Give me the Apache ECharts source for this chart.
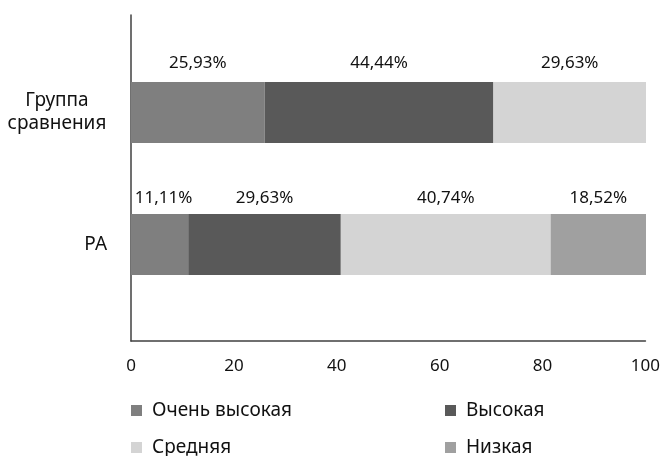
<!DOCTYPE html>
<html>
<head>
<meta charset="utf-8">
<script src="https://cdn.jsdelivr.net/npm/echarts@6/dist/echarts.min.js"></script>
<style>
  html, body { margin: 0; padding: 0; background: #fff; }
  #chart { width: 663px; height: 456px; }
</style>
</head>
<body>
<div id="chart"></div>
<script>
// Groups, bottom to top
const categories = ['РА', 'Группа сравнения'];
// Level names, in stacking order
const levels = ['Очень высокая', 'Высокая', 'Средняя', 'Низкая'];
// Percent share of each level per group (same order as categories)
const veryHigh = [11.11, 25.93];
const high     = [29.63, 44.44];
const medium   = [40.74, 29.63];
const low      = [18.52, 0];
// Value axis ticks
const xTicks = [0, 20, 40, 60, 80, 100];

const colors = ['#7f7f7f', '#595959', '#d4d4d4', '#a0a0a0'];
const FONT = 'Noto Sans';
const FS_NUM = 17;   // numbers
const FS_TXT = 19;   // words
const TXT = '#111111';

const seriesValues = [veryHigh, high, medium, low];

function fmt(v) {
  return v.toFixed(2).replace('.', ',') + '%';
}

const series = levels.map((name, si) => ({
  name,
  type: 'bar',
  stack: 'total',
  xAxisIndex: 0,
  yAxisIndex: 0,
  barWidth: 61,
  itemStyle: { color: colors[si] },
  data: seriesValues[si].map((v, ci) => {
    const label = {
      show: v > 0,
      position: 'top',
      distance: ci === 1 ? 10 : 7,
      formatter: p => fmt(p.value),
      color: TXT,
      fontFamily: FONT,
      fontSize: FS_NUM
    };
    // keep the narrow first segment's label clear of the axis line
    if (si === 0 && ci === 0) label.offset = [4, 0];
    return { value: v, label };
  })
}));

// legend laid out as two columns of two rows
const legendPos = [
  { left: 131, top: 401 },
  { left: 445, top: 401 },
  { left: 131, top: 438 },
  { left: 445, top: 438 }
];
const legends = levels.map((name, i) => ({
  data: [name],
  left: legendPos[i].left,
  top: legendPos[i].top,
  padding: 0,
  itemWidth: 11, itemHeight: 11, icon: 'rect',
  textStyle: { color: TXT, fontFamily: FONT, fontSize: FS_TXT, padding: [0, 0, 0, 5] }
}));

const option = {
  animation: false,
  backgroundColor: '#ffffff',
  textStyle: { fontFamily: FONT },
  grid: [
    // bars
    { left: 131, right: 17, top: 46.5, height: 264 },
    // axis frame
    { left: 131, right: 17, top: 15, height: 326 }
  ],
  xAxis: [
    {
      gridIndex: 0, type: 'value', min: 0, max: 100, interval: 20,
      show: false
    },
    {
      gridIndex: 1, type: 'value', min: xTicks[0], max: xTicks[xTicks.length - 1],
      interval: xTicks[1] - xTicks[0],
      axisLine: { show: true, lineStyle: { color: '#404040', width: 1.5 } },
      axisTick: { show: false },
      splitLine: { show: false },
      axisLabel: { color: TXT, fontFamily: FONT, fontSize: FS_NUM, margin: 17 }
    }
  ],
  yAxis: [
    {
      gridIndex: 0, type: 'category', data: categories,
      axisLine: { show: false },
      axisTick: { show: false },
      axisLabel: {
        color: TXT, fontFamily: FONT, fontSize: FS_TXT,
        margin: 24, align: 'right',
        formatter: v => {
          const parts = v.split(' ');
          if (parts.length > 1) return parts.map(p => '{c|' + p + '}').join('\n');
          return v;
        },
        rich: {
          c: { width: 100, align: 'center', fontFamily: FONT, fontSize: FS_TXT, color: TXT, lineHeight: 23 }
        }
      }
    },
    {
      gridIndex: 1, type: 'value', min: 0, max: 1,
      axisLine: { show: true, lineStyle: { color: '#404040', width: 1.5 } },
      axisTick: { show: false },
      axisLabel: { show: false },
      splitLine: { show: false }
    }
  ],
  legend: legends,
  series
};

const chart = echarts.init(document.getElementById('chart'), null, { renderer: 'canvas' });
chart.setOption(option);
</script>
</body>
</html>
